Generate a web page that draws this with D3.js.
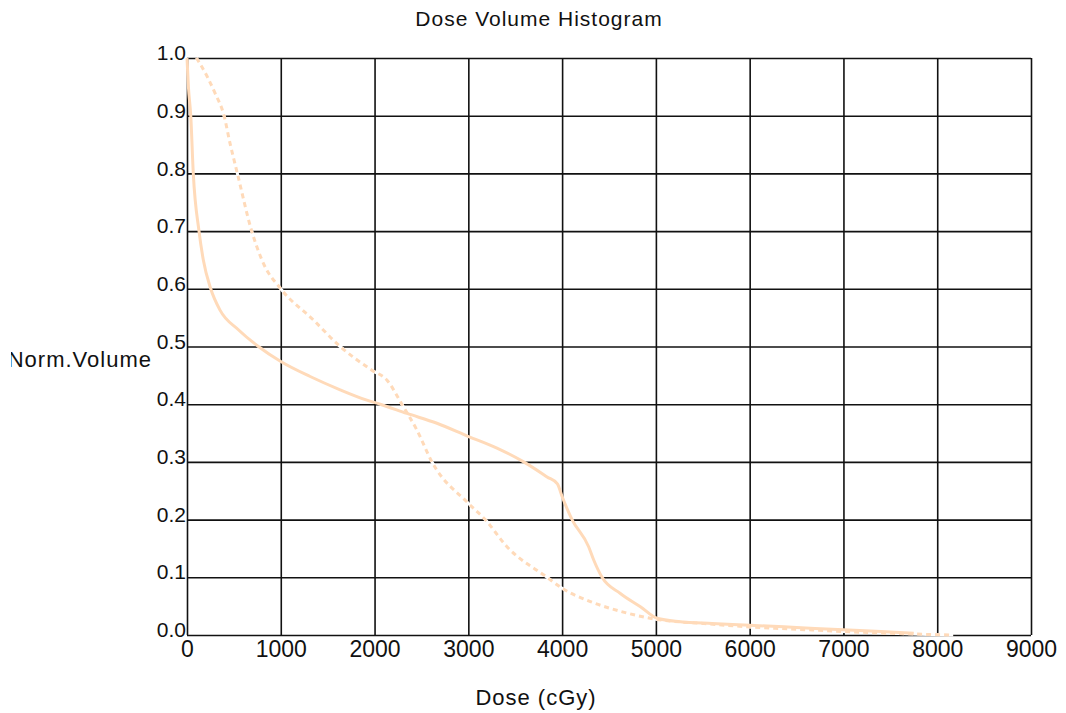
<!DOCTYPE html>
<html>
<head>
<meta charset="utf-8">
<script src="https://cdn.jsdelivr.net/npm/d3@7"></script>
<style>
  body { margin: 0; background: #fff; }
  svg { display: block; }
</style>
</head>
<body>
<svg id="dvhSvg" width="1066" height="713"></svg>
<script>
// solid curve
var solidDose = [0, 15, 40, 67, 128, 174, 253, 352, 548, 761, 1000, 1313, 1633, 1918, 2060, 2345, 2665, 3002, 3305, 3590, 3840, 3950, 4000, 4106, 4283, 4337, 4426, 4621, 4835, 5013, 5262, 5600, 6000, 6500, 7000, 7400, 7750];
var solidVol = [1.0, 0.95, 0.9, 0.8, 0.7, 0.65, 0.6, 0.563, 0.529, 0.5, 0.474, 0.448, 0.425, 0.407, 0.4, 0.384, 0.367, 0.344, 0.324, 0.3, 0.274, 0.262, 0.24, 0.2, 0.153, 0.13, 0.1, 0.072, 0.049, 0.029, 0.023, 0.02, 0.017, 0.013, 0.009, 0.006, 0.003];

// dotted curve
var dottedDose = [100, 139, 299, 395, 459, 537, 690, 815, 1000, 1348, 1633, 1971, 2131, 2291, 2452, 2612, 3002, 3180, 3412, 3840, 4000, 4302, 4693, 5013, 5500, 6000, 6500, 7000, 7500, 7900, 8170];
var dottedVol = [1.0, 0.99, 0.939, 0.9, 0.852, 0.8, 0.7, 0.644, 0.6, 0.546, 0.5, 0.459, 0.442, 0.4, 0.355, 0.3, 0.228, 0.2, 0.153, 0.1, 0.081, 0.058, 0.038, 0.027, 0.02, 0.014, 0.01, 0.006, 0.003, 0.001, 0];

var xTicks = [0, 1000, 2000, 3000, 4000, 5000, 6000, 7000, 8000, 9000];
var yTicks = [0.0, 0.1, 0.2, 0.3, 0.4, 0.5, 0.6, 0.7, 0.8, 0.9, 1.0];

var svg = d3.select("#dvhSvg");
var plotLeft = 187, plotRight = 1031, plotTop = 58, plotBottom = 635;
var curveColor = "#ffdab9";
var font = "'Liberation Sans', Arial, sans-serif";

var x = d3.scaleLinear().domain([0, 9000]).range([plotLeft, plotRight]);
var y = d3.scaleLinear().domain([0, 1]).range([plotBottom, plotTop]);

// grid + tick labels via axes
var xAxis = svg.append("g")
    .attr("transform", "translate(0," + plotBottom + ")")
    .call(d3.axisBottom(x).tickValues(xTicks).tickFormat(d3.format("d"))
        .tickSizeInner(-(plotBottom - plotTop)).tickSizeOuter(0).tickPadding(6));

var yAxis = svg.append("g")
    .attr("transform", "translate(" + plotLeft + ",0)")
    .call(d3.axisLeft(y).tickValues(yTicks).tickFormat(d3.format(".1f"))
        .tickSizeInner(-(plotRight - plotLeft)).tickSizeOuter(0).tickPadding(1));

[xAxis, yAxis].forEach(function (g) {
    g.select(".domain").remove();
    g.selectAll(".tick line")
        .attr("stroke", "#111")
        .attr("stroke-width", 1.6);
    g.selectAll(".tick text")
        .attr("fill", "#111")
        .style("font-family", font);
});
xAxis.selectAll(".tick text").style("font-size", "23px");
yAxis.selectAll(".tick text").style("font-size", "21px").attr("dy", "0.08em");

// curves
var solidData = solidDose.map(function (d, i) { return [d, solidVol[i]]; });
var dottedData = dottedDose.map(function (d, i) { return [d, dottedVol[i]]; });

var line = d3.line()
    .curve(d3.curveMonotoneX)
    .x(function (d) { return x(d[0]); })
    .y(function (d) { return y(d[1]); });

svg.append("path")
    .attr("d", line(dottedData))
    .attr("fill", "none")
    .attr("stroke", "#fff")
    .attr("stroke-width", 3);

svg.append("path")
    .attr("d", line(dottedData))
    .attr("fill", "none")
    .attr("stroke", curveColor)
    .attr("stroke-width", 3)
    .attr("stroke-dasharray", "5,4");

svg.append("path")
    .attr("d", line(solidData))
    .attr("fill", "none")
    .attr("stroke", curveColor)
    .attr("stroke-width", 3)
    .attr("stroke-linejoin", "round");

// titles
svg.append("text")
    .attr("x", 539)
    .attr("y", 26)
    .attr("text-anchor", "middle")
    .attr("fill", "#111")
    .style("font-family", font)
    .style("font-size", "21px")
    .style("letter-spacing", "1px")
    .text("Dose Volume Histogram");

svg.append("text")
    .attr("x", 536)
    .attr("y", 705)
    .attr("text-anchor", "middle")
    .attr("fill", "#111")
    .style("font-family", font)
    .style("font-size", "22px")
    .style("letter-spacing", "1px")
    .text("Dose (cGy)");

svg.append("clipPath")
    .attr("id", "ylabClip")
    .append("rect")
    .attr("x", 11).attr("y", 320).attr("width", 170).attr("height", 80);

svg.append("text")
    .attr("x", 152)
    .attr("y", 367)
    .attr("text-anchor", "end")
    .attr("fill", "#111")
    .attr("clip-path", "url(#ylabClip)")
    .style("font-family", font)
    .style("font-size", "22px")
    .style("letter-spacing", "1px")
    .text("Norm.Volume");
</script>
</body>
</html>
